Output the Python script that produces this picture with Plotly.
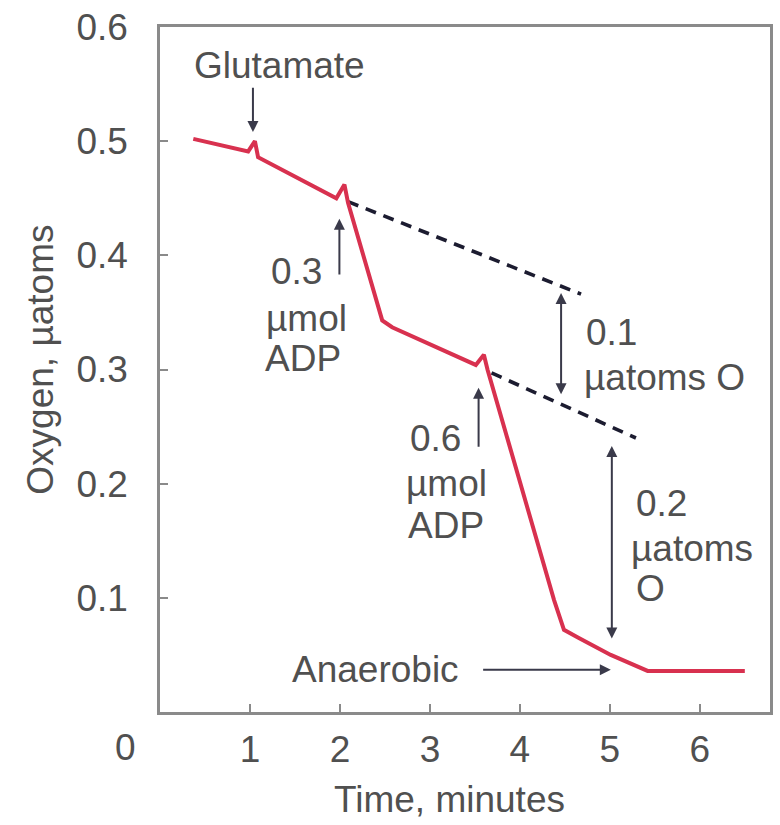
import plotly.graph_objects as go

# Oxygen trace (µatoms O) against time (minutes)
time_min = [0.37, 0.98, 1.055, 1.09, 1.96, 2.05, 2.09, 2.47, 2.58,
            3.10, 3.51, 3.60, 3.64, 4.38, 4.49, 4.65, 5.01, 5.42, 6.50]
oxygen = [0.502, 0.491, 0.500, 0.486, 0.450, 0.462, 0.446, 0.343, 0.337,
          0.319, 0.304, 0.313, 0.300, 0.098, 0.072, 0.065, 0.050, 0.036, 0.036]

# Extrapolated state-4 rates (dashed)
ext1_time = [2.09, 4.68]
ext1_oxygen = [0.447, 0.366]
ext2_time = [3.685, 5.29]
ext2_oxygen = [0.297, 0.240]

x_ticks = [1, 2, 3, 4, 5, 6]
y_ticks = [0.1, 0.2, 0.3, 0.4, 0.5, 0.6]
y_tick_text = ["0.1", "0.2", "0.3", "0.4", "0.5", "0.6"]

FONT = "Liberation Sans, Arial, Helvetica, sans-serif"
TXT = "#505050"
AXC = "#8a8a8a"
FS = 37

fig = go.Figure()
for tx, oy in ((ext1_time, ext1_oxygen), (ext2_time, ext2_oxygen)):
    fig.add_trace(go.Scatter(x=tx, y=oy, mode="lines",
                             line=dict(color="#1c1c30", width=3.6, dash="11px,8px"),
                             hoverinfo="skip"))
fig.add_trace(go.Scatter(x=time_min, y=oxygen, mode="lines",
                         line=dict(color="#d8314f", width=4),
                         hoverinfo="skip"))

annotations = []


def label(text, x, y, xanchor="center"):
    annotations.append(dict(text=text, x=x, y=y, xref="x", yref="y",
                            xanchor=xanchor, yanchor="middle", showarrow=False,
                            font=dict(family=FONT, size=FS, color=TXT)))


def arrow(x, y, ax, ay, both=False):
    annotations.append(dict(text="", x=x, y=y, ax=ax, ay=ay, xref="x", yref="y",
                            axref="x", ayref="y", showarrow=True, arrowhead=2,
                            arrowsize=1.1, arrowwidth=2, arrowcolor="#3a3a4a",
                            arrowside="end+start" if both else "end",
                            startarrowhead=2, startarrowsize=1.1))


label("Glutamate", 1.33, 0.566)
arrow(1.033, 0.508, 1.033, 0.548)

label("0.3", 1.52, 0.386)
label("µmol", 1.63, 0.345)
label("ADP", 1.585, 0.310)
arrow(1.994, 0.432, 1.994, 0.382)

label("0.6", 3.06, 0.240)
label("µmol", 3.18, 0.200)
label("ADP", 3.18, 0.163)
arrow(3.541, 0.284, 3.541, 0.231)

label("0.1", 4.71, 0.332, "left")
label("µatoms O", 4.69, 0.293, "left")
arrow(4.458, 0.367, 4.458, 0.277, both=True)

label("0.2", 5.27, 0.183, "left")
label("µatoms", 5.21, 0.143, "left")
label("O", 5.27, 0.108, "left")
arrow(5.022, 0.233, 5.022, 0.063, both=True)

label("Anaerobic", 2.40, 0.037)
arrow(5.011, 0.037, 3.575, 0.037)

# shared origin label and axis titles
annotations.append(dict(text="0", x=-0.057, y=-0.052, xref="paper", yref="paper",
                        showarrow=False, xanchor="center", yanchor="middle",
                        font=dict(family=FONT, size=FS, color=TXT)))
annotations.append(dict(text="Time, minutes", x=0.474, y=-0.128, xref="paper",
                        yref="paper", showarrow=False, xanchor="center",
                        yanchor="middle", font=dict(family=FONT, size=FS, color=TXT)))
annotations.append(dict(text="Oxygen, µatoms", x=-0.196, y=0.515, xref="paper",
                        yref="paper", showarrow=False, xanchor="center",
                        yanchor="middle", textangle=-90,
                        font=dict(family=FONT, size=FS, color=TXT)))

fig.update_layout(
    width=780, height=825,
    margin=dict(l=160, r=7, t=25, b=113),
    paper_bgcolor="white", plot_bgcolor="white",
    showlegend=False,
    annotations=annotations,
    xaxis=dict(range=[0, 6.78], tickvals=x_ticks, ticks="inside", ticklen=8,
               tickwidth=2, tickcolor=AXC, showline=True, linecolor=AXC,
               linewidth=2.5, mirror=True, showgrid=False, zeroline=False,
               ticklabelstandoff=3,
               tickfont=dict(family=FONT, size=FS, color=TXT)),
    yaxis=dict(range=[0, 0.6], tickvals=y_ticks, ticktext=y_tick_text,
               ticks="inside", ticklen=8, tickwidth=2, tickcolor=AXC,
               showline=True, linecolor=AXC, linewidth=2.5, mirror=True,
               showgrid=False, zeroline=False, ticklabelstandoff=22,
               tickfont=dict(family=FONT, size=FS, color=TXT)),
)

fig.write_html("out.html")
